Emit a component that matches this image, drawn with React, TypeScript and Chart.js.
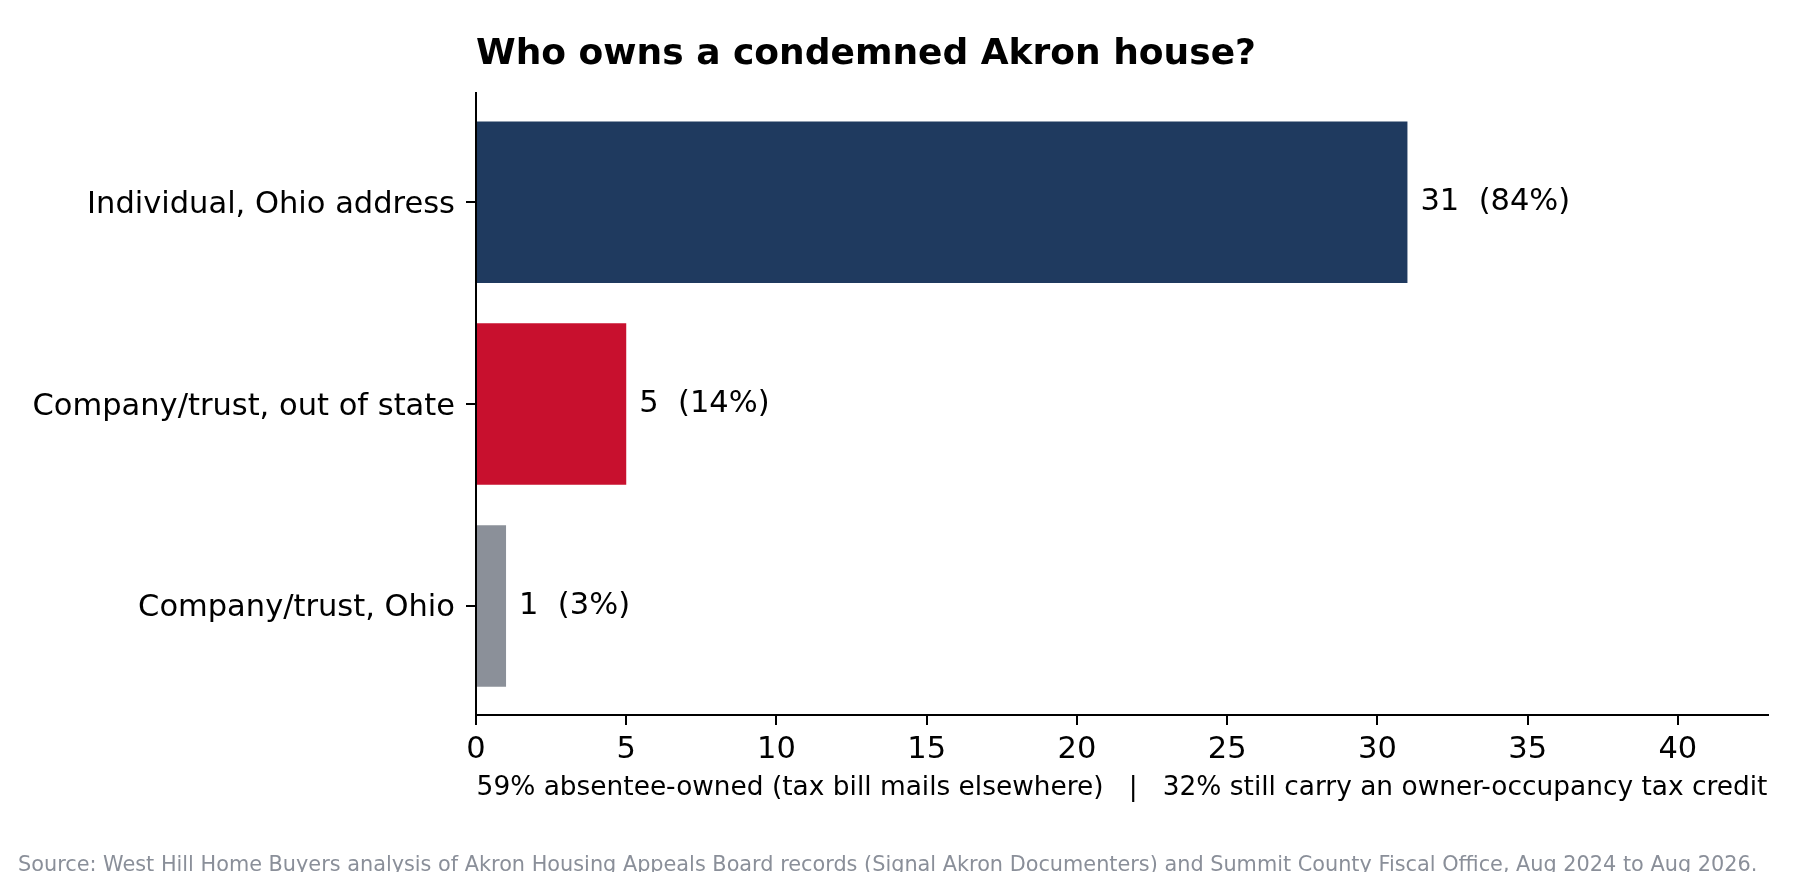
import { useEffect, useRef } from "react";
import { Chart, registerables } from "chart.js";

Chart.register(...registerables);

const categories = ["Individual, Ohio address", "Company/trust, out of state", "Company/trust, Ohio"];
const counts = [31, 5, 1];
const shares = [84, 14, 3];
const barColors = ["#1f3a5f", "#c8102e", "#8b9099"];
const xTicks = [0, 5, 10, 15, 20, 25, 30, 35, 40];

const TITLE = "Who owns a condemned Akron house?";
const NOTE = "59% absentee-owned (tax bill mails elsewhere)   |   32% still carry an owner-occupancy tax credit";
const SOURCE =
  "Source: West Hill Home Buyers analysis of Akron Housing Appeals Board records (Signal Akron Documenters) and Summit County Fiscal Office, Aug 2024 to Aug 2026.";

const FONT = "'DejaVu Sans', sans-serif";

// value labels beside the bars, plus the note and source lines
const extrasPlugin = {
  id: "extras",
  afterDatasetsDraw(chart: Chart) {
    const ctx = chart.ctx;
    const meta = chart.getDatasetMeta(0);
    ctx.save();
    ctx.font = `30.5px ${FONT}`;
    ctx.fillStyle = "#000";
    ctx.textAlign = "left";
    ctx.textBaseline = "middle";
    meta.data.forEach((bar: any, i: number) => {
      ctx.fillText(`${counts[i]}  (${shares[i]}%)`, bar.x + 13, bar.y);
    });
    ctx.restore();
  },
  afterDraw(chart: Chart) {
    const ctx = chart.ctx;
    const area = chart.chartArea;
    ctx.save();
    ctx.textBaseline = "alphabetic";
    ctx.font = `26.4px ${FONT}`;
    ctx.fillStyle = "#000";
    ctx.textAlign = "center";
    ctx.fillText(NOTE, (area.left + area.right) / 2, 795);

    // source line runs from the left edge to just under the axis end
    ctx.font = `22px ${FONT}`;
    const w = ctx.measureText(SOURCE).width;
    const size = (22 * 1740) / w;
    ctx.font = `${size.toFixed(2)}px ${FONT}`;
    ctx.fillStyle = "#8a8f99";
    ctx.textAlign = "left";
    ctx.fillText(SOURCE, 18, 871);
    ctx.restore();
  },
};

function OwnersChart() {
  const canvasRef = useRef<HTMLCanvasElement>(null);
  const chartRef = useRef<Chart | null>(null);

  useEffect(() => {
    if (!canvasRef.current) return;
    if (chartRef.current) chartRef.current.destroy();

    chartRef.current = new Chart(canvasRef.current, {
      type: "bar",
      data: {
        datasets: [
          {
            data: counts.map((c, i) => ({ x: c, y: i })),
            backgroundColor: barColors,
            borderWidth: 0,
            barPercentage: 0.8,
            categoryPercentage: 1,
          },
        ],
      },
      options: {
        indexAxis: "y",
        animation: false,
        responsive: true,
        maintainAspectRatio: false,
        layout: { padding: { left: 0, right: 32, top: 0, bottom: 0 } },
        font: { family: FONT },
        plugins: {
          legend: { display: false },
          tooltip: { enabled: false },
          title: {
            display: true,
            text: TITLE,
            align: "start",
            fullSize: false,
            color: "#000",
            font: { family: FONT, size: 36, weight: "bold" },
            padding: { top: 33, bottom: 17 },
          },
        },
        scales: {
          x: {
            type: "linear",
            min: 0,
            max: 43,
            afterBuildTicks: (scale: any) => {
              scale.ticks = xTicks.map((v) => ({ value: v }));
            },
            afterFit: (scale: any) => {
              scale.height = 165;
            },
            grid: { drawOnChartArea: false, drawTicks: true, tickLength: 10, color: "#000", lineWidth: 2 },
            border: { display: true, color: "#000", width: 2 },
            ticks: { color: "#000", padding: 7, font: { family: FONT, size: 30.5 }, maxRotation: 0 },
          },
          y: {
            type: "linear",
            reverse: true,
            offset: false,
            min: -0.54,
            max: 2.54,
            afterBuildTicks: (scale: any) => {
              scale.ticks = categories.map((_, i) => ({ value: i }));
            },
            afterFit: (scale: any) => {
              scale.width = 476;
            },
            grid: {
              offset: false,
              drawOnChartArea: false,
              drawTicks: true,
              tickLength: 10,
              color: "#000",
              lineWidth: 2,
            },
            border: { display: true, color: "#000", width: 2 },
            ticks: {
              color: "#000",
              padding: 11,
              labelOffset: 2.5,
              font: { family: FONT, size: 30.5 },
              callback: (v: any) => categories[v] ?? "",
            },
          },
        },
      },
      plugins: [extrasPlugin],
    });

    return () => {
      if (chartRef.current) {
        chartRef.current.destroy();
        chartRef.current = null;
      }
    };
  }, []);

  return (
    <div style={{ width: 1800, height: 880, position: "relative", background: "#fff" }}>
      <canvas ref={canvasRef} />
    </div>
  );
}

export default function App() {
  return (
    <div style={{ margin: -8 }}>
      <OwnersChart />
    </div>
  );
}
